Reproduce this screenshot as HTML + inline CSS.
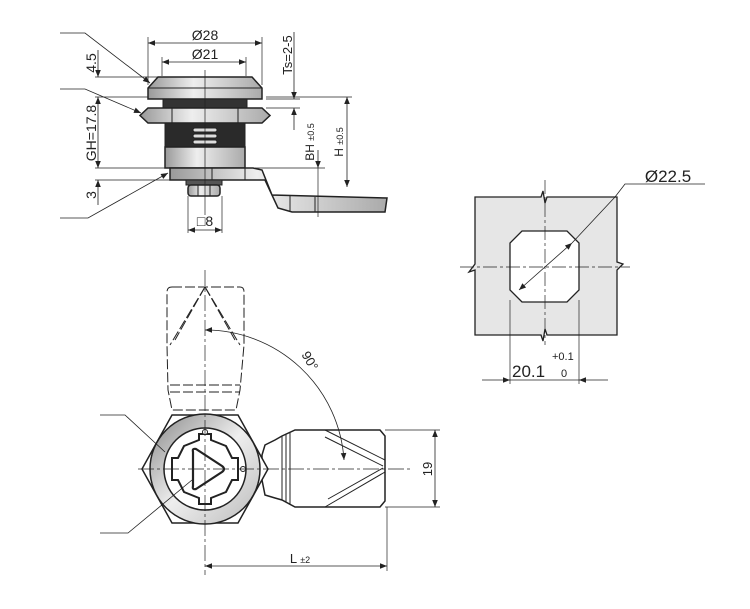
<!DOCTYPE html>
<html><head><style>
html,body{margin:0;padding:0;background:#fff;}
svg{display:block;}
text{font-family:"Liberation Sans",sans-serif;fill:#222;}
</style></head><body>
<svg width="750" height="609" viewBox="0 0 750 609" xmlns="http://www.w3.org/2000/svg">
<defs>
<marker id="a" viewBox="0 0 10 10" refX="10" refY="5" markerUnits="userSpaceOnUse" markerWidth="11" markerHeight="7" orient="auto-start-reverse"><path d="M0,1 L10,5 L0,9 z" fill="#222"/></marker>
<linearGradient id="g1" x1="0" x2="1"><stop offset="0" stop-color="#999"/><stop offset=".4" stop-color="#eee"/><stop offset="1" stop-color="#aaa"/></linearGradient>
<linearGradient id="g2" x1="0" x2="1" y1="0" y2="1"><stop offset="0" stop-color="#888"/><stop offset=".5" stop-color="#eee"/><stop offset="1" stop-color="#bbb"/></linearGradient>
</defs>
<g stroke="#222" fill="none" stroke-width="1">
<!-- ===== TOP VIEW ===== -->
<path d="M158,77 L252,77 L262,88 L262,99 L148,99 L148,88 Z" fill="url(#g1)" stroke-width="1.5"/>
<line x1="148" y1="88" x2="262" y2="88"/>
<rect x="163" y="99" width="84" height="9" fill="#333"/>
<path d="M148,108 L262,108 L270,115.5 L262,123 L148,123 L140,115.5 Z" fill="url(#g1)" stroke-width="1.5"/>
<line x1="172" y1="108" x2="172" y2="123"/><line x1="238" y1="108" x2="238" y2="123"/>
<rect x="165" y="123" width="80" height="24" fill="#2a2a2a"/>
<g fill="#ddd" stroke="#222"><rect x="193" y="128" width="24" height="4" rx="2"/><rect x="193" y="134" width="24" height="4" rx="2"/><rect x="193" y="140" width="24" height="4" rx="2"/></g>
<rect x="165" y="147" width="80" height="21" fill="url(#g1)" stroke-width="1.5"/>
<path d="M170,168 L253,168 L262,170 L272,195 L387,198 L385,212 L292,212 L278,208 L265,180 L170,180 Z" fill="url(#g1)" stroke-width="1.5"/>
<line x1="212" y1="168" x2="212" y2="180"/><line x1="245" y1="168" x2="245" y2="180"/>
<line x1="290" y1="196" x2="290" y2="211"/><line x1="315" y1="197" x2="315" y2="212"/>
<rect x="186" y="180" width="36" height="5" fill="#555"/>
<rect x="188" y="185" width="32" height="11" rx="3" fill="url(#g1)" stroke-width="1.5"/>
<line x1="198" y1="185" x2="198" y2="196"/><line x1="210" y1="185" x2="210" y2="196"/>
<line x1="205" y1="70" x2="205" y2="215" stroke-width=".7"/>
<line x1="148" y1="37" x2="148" y2="85" stroke-width=".7"/><line x1="262" y1="37" x2="262" y2="85" stroke-width=".7"/>
<line x1="148" y1="43" x2="262" y2="43" marker-start="url(#a)" marker-end="url(#a)" stroke-width=".8"/>
<line x1="162" y1="57" x2="162" y2="76" stroke-width=".7"/><line x1="246" y1="57" x2="246" y2="76" stroke-width=".7"/>
<line x1="162" y1="62" x2="246" y2="62" marker-start="url(#a)" marker-end="url(#a)" stroke-width=".8"/>
<line x1="294" y1="32" x2="294" y2="99" marker-end="url(#a)" stroke-width=".8"/>
<line x1="294" y1="108" x2="294" y2="130" marker-start="url(#a)" stroke-width=".8"/>
<line x1="266" y1="99" x2="300" y2="99" stroke-width=".7"/><line x1="266" y1="108" x2="300" y2="108" stroke-width=".7"/>
<line x1="266" y1="97" x2="352" y2="97" stroke-width=".7"/>
<line x1="347" y1="97" x2="347" y2="187" marker-start="url(#a)" marker-end="url(#a)" stroke-width=".8"/>
<line x1="318" y1="150" x2="318" y2="168" marker-end="url(#a)" stroke-width=".8"/>
<line x1="318" y1="168" x2="318" y2="217" stroke-width=".7"/>
<line x1="255" y1="168" x2="325" y2="168" stroke-width=".7"/>
<line x1="95" y1="77" x2="160" y2="77" stroke-width=".7"/>
<line x1="95" y1="97" x2="148" y2="97" stroke-width=".7"/>
<line x1="95" y1="168" x2="165" y2="168" stroke-width=".7"/>
<line x1="95" y1="180" x2="170" y2="180" stroke-width=".7"/>
<line x1="98" y1="50" x2="98" y2="77" marker-end="url(#a)" stroke-width=".8"/>
<line x1="98" y1="97" x2="98" y2="168" marker-start="url(#a)" marker-end="url(#a)" stroke-width=".8"/>
<line x1="98" y1="180" x2="98" y2="205" marker-start="url(#a)" stroke-width=".8"/>
<polyline points="60,33 85,33 150,83" marker-end="url(#a)" stroke-width=".8"/>
<polyline points="60,89 85,89 141,113" marker-end="url(#a)" stroke-width=".8"/>
<polyline points="60,218 88,218 168,173" marker-end="url(#a)" stroke-width=".8"/>
<line x1="188" y1="196" x2="188" y2="233" stroke-width=".7"/><line x1="222" y1="196" x2="222" y2="233" stroke-width=".7"/>
<line x1="188" y1="230" x2="222" y2="230" marker-start="url(#a)" marker-end="url(#a)" stroke-width=".8"/>

<!-- ===== RIGHT VIEW ===== -->
<path d="M475,197 L541,197 L543,191 L545,203 L547,197 L617,197 L617,262 L623,264 L617,270 L617,335 L547,335 L545,329 L543,341 L541,335 L475,335 L475,270 L469,272 L475,264 Z" fill="#e6e6e6" stroke-width="1.3"/>
<path d="M522,231 L567,231 L579,243 L579,290 L567,302 L522,302 L510,290 L510,243 Z" fill="#fff" stroke-width="1.3"/>
<line x1="545" y1="180" x2="545" y2="345" stroke-dasharray="14,3,3,3" stroke-width=".7"/>
<line x1="460" y1="267" x2="630" y2="267" stroke-dasharray="14,3,3,3" stroke-width=".7"/>
<line x1="519" y1="290" x2="572" y2="243" marker-start="url(#a)" marker-end="url(#a)" stroke-width=".8"/>
<polyline points="572,243 615,197 625,184 705,184" stroke-width=".8"/>
<line x1="510" y1="300" x2="510" y2="384" stroke-width=".7"/><line x1="579" y1="300" x2="579" y2="384" stroke-width=".7"/>
<line x1="482" y1="380" x2="510" y2="380" marker-end="url(#a)" stroke-width=".8"/>
<line x1="579" y1="380" x2="608" y2="380" marker-start="url(#a)" stroke-width=".8"/>
<line x1="510" y1="380" x2="579" y2="380" stroke-width=".7"/>

<!-- ===== BOTTOM VIEW ===== -->
<g stroke-dasharray="10,3" stroke-width="1">
<path d="M172,287 L240,287 Q244,287 244,292 L244,345 L240,390 L236,410 L172,410 L168,390 L167,345 L167,292 Q167,287 172,287"/>
<line x1="205" y1="287" x2="170" y2="345"/><line x1="205" y1="287" x2="240" y2="345"/>
<line x1="205" y1="287" x2="175" y2="340"/><line x1="205" y1="287" x2="235" y2="340"/>
<line x1="170" y1="385" x2="240" y2="385"/><line x1="170" y1="392" x2="240" y2="392"/>
</g>
<path d="M295,430 L380,430 L385,436 L385,501 L380,507 L295,507 L282,500 L275,498 L265,495 L262,480 L262,455 L265,445 L275,440 L282,436 Z" fill="#fff" stroke-width="1.5"/>
<line x1="290" y1="432" x2="290" y2="505"/><line x1="282" y1="436" x2="282" y2="500"/><line x1="286" y1="434" x2="286" y2="502"/>
<line x1="325" y1="430" x2="385" y2="460"/><line x1="325" y1="437" x2="383" y2="466"/>
<line x1="325" y1="507" x2="385" y2="472"/><line x1="328" y1="499" x2="383" y2="468"/>
<path d="M142,469 L172,415 L238,415 L268,469 L238,523 L172,523 Z" fill="#fff" stroke-width="1.5"/>
<circle cx="205" cy="469" r="55" fill="url(#g2)" stroke-width="1.5"/>
<circle cx="205" cy="469" r="41" fill="#fff" stroke-width="1.5"/>
<path d="M199,434 L211,434 L211,440 L226,446 L232,458 L238,458 L238,480 L232,480 L226,492 L211,498 L211,504 L199,504 L199,498 L184,492 L178,480 L172,480 L172,458 L178,458 L184,446 L199,440 Z" stroke-width="2"/>
<path d="M193,452 Q192,448 196,449 L222,466 Q226,469 222,472 L196,489 Q192,490 193,486 Z" stroke-width="2.2"/>
<circle cx="205" cy="432" r="2.5" fill="#fff"/><circle cx="243" cy="469" r="2.5" fill="#fff"/>
<line x1="205" y1="270" x2="205" y2="575" stroke-dasharray="16,3,3,3" stroke-width=".7"/>
<line x1="138" y1="469" x2="410" y2="469" stroke-dasharray="16,3,3,3" stroke-width=".7"/>
<path d="M205,330 A139,139 0 0 1 344,460" marker-start="url(#a)" marker-end="url(#a)" stroke-width=".8"/>
<line x1="385" y1="430" x2="440" y2="430" stroke-width=".7"/><line x1="385" y1="507" x2="440" y2="507" stroke-width=".7"/>
<line x1="435" y1="430" x2="435" y2="507" marker-start="url(#a)" marker-end="url(#a)" stroke-width=".8"/>
<line x1="387" y1="507" x2="387" y2="571" stroke-width=".7"/>
<line x1="205" y1="566" x2="387" y2="566" marker-start="url(#a)" marker-end="url(#a)" stroke-width=".8"/>
<polyline points="100,415 125,415 165,452" stroke-width=".8"/>
<polyline points="100,533 128,533 192,480" stroke-width=".8"/>
</g>
<text x="205" y="40" font-size="14" text-anchor="middle">Ø28</text>
<text x="205" y="59" font-size="14" text-anchor="middle">Ø21</text>
<text transform="translate(292,55) rotate(-90)" font-size="13" text-anchor="middle">Ts=2-5</text>
<text transform="translate(343,142) rotate(-90)" font-size="12" text-anchor="middle">H <tspan font-size="9">±0.5</tspan></text>
<text transform="translate(314,142) rotate(-90)" font-size="12" text-anchor="middle">BH <tspan font-size="9">±0.5</tspan></text>
<text transform="translate(96,63) rotate(-90)" font-size="14" text-anchor="middle">4.5</text>
<text transform="translate(96,133) rotate(-90)" font-size="14" text-anchor="middle">GH=17.8</text>
<text transform="translate(96,195) rotate(-90)" font-size="14" text-anchor="middle">3</text>
<text x="205" y="226" font-size="14" text-anchor="middle">□8</text>
<text x="668" y="182" font-size="17" text-anchor="middle">Ø22.5</text>
<text x="512" y="377" font-size="17">20.1</text>
<text x="552" y="360" font-size="11">+0.1</text>
<text x="561" y="377" font-size="11">0</text>
<text transform="translate(306,363) rotate(60)" font-size="13" text-anchor="middle">90°</text>
<text transform="translate(432,469) rotate(-90)" font-size="13" text-anchor="middle">19</text>
<text x="300" y="563" font-size="13" text-anchor="middle">L <tspan font-size="9">±2</tspan></text>
</svg>
</body></html>
